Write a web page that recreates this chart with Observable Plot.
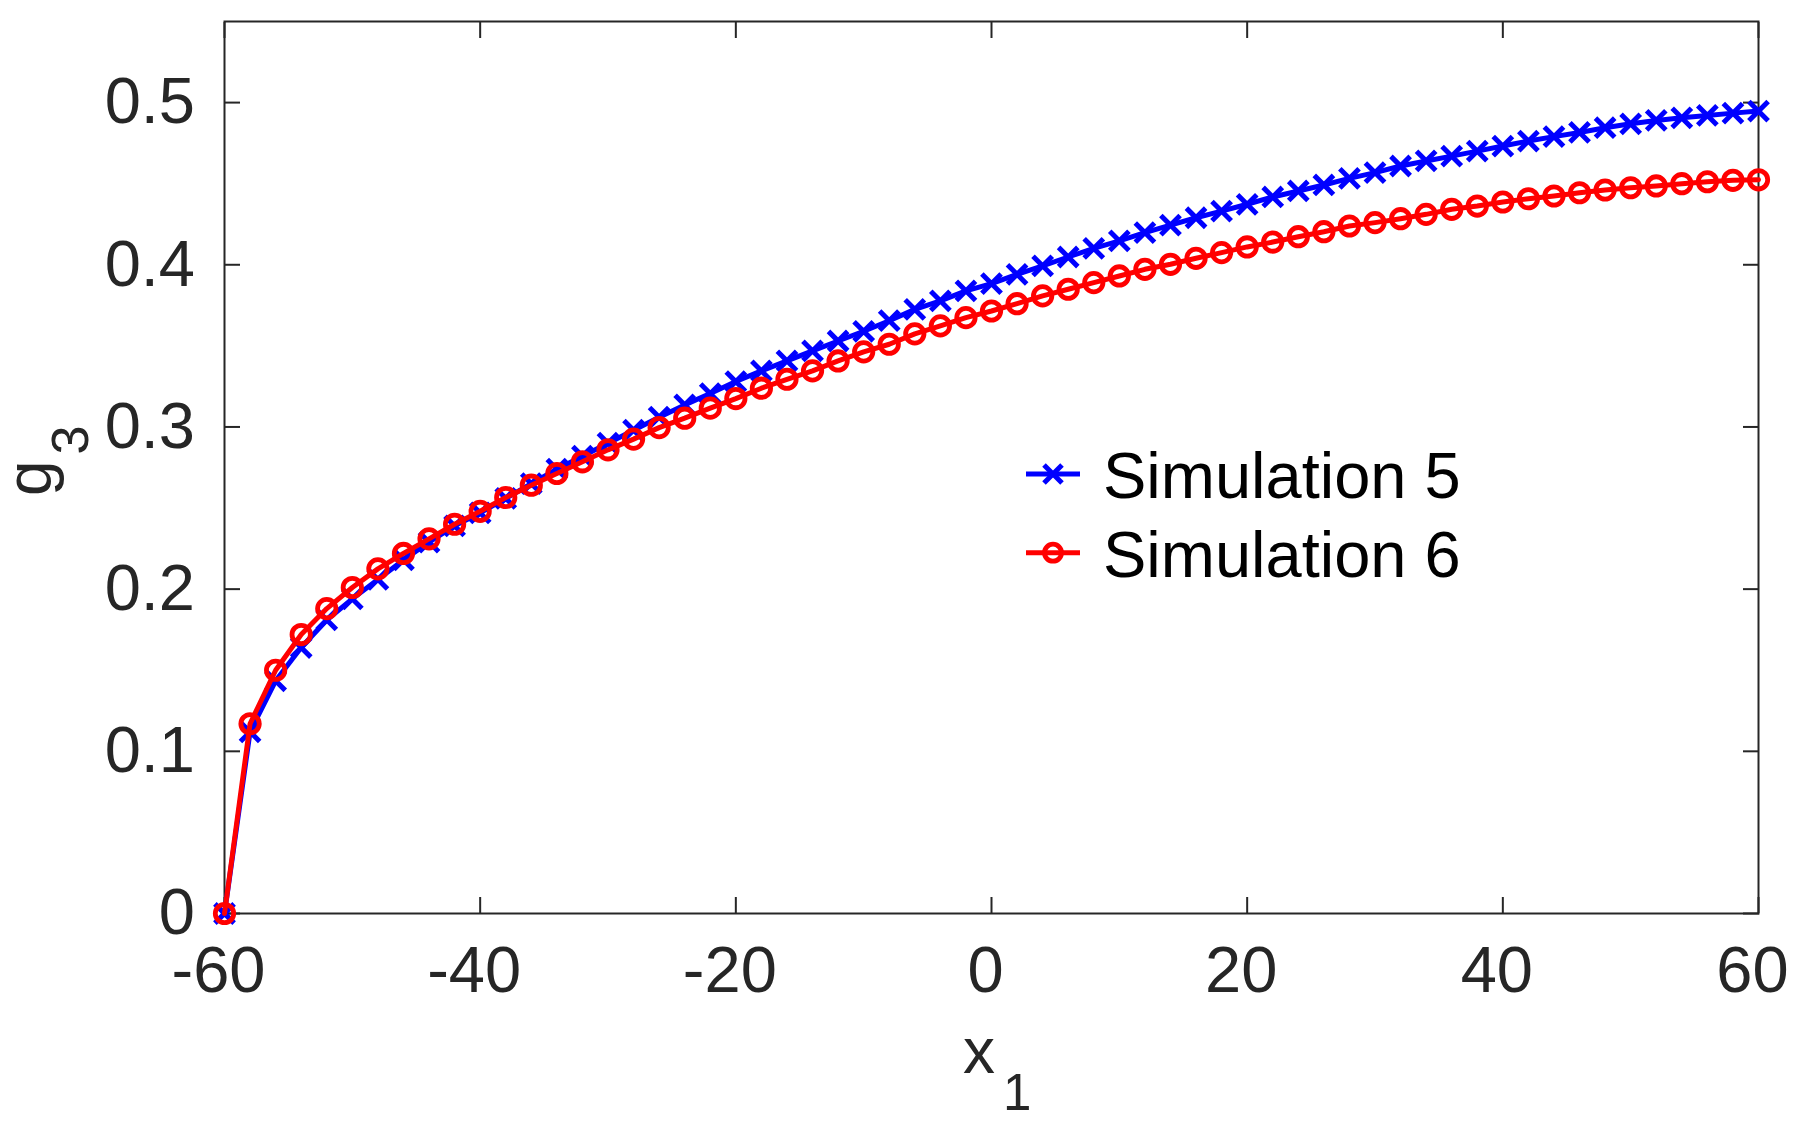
<!DOCTYPE html>
<html><head><meta charset="utf-8">
<script src="https://cdn.jsdelivr.net/npm/d3@7"></script>
<script src="https://cdn.jsdelivr.net/npm/@observablehq/plot@0.6"></script>
<style>html,body{margin:0;padding:0;background:#fff;} #wrap{width:1805px;height:1126px;}</style>
</head><body><div id="wrap"></div>
<script>
const xValues = [-60,-58,-56,-54,-52,-50,-48,-46,-44,-42,-40,-38,-36,-34,-32,-30,-28,-26,-24,-22,-20,-18,-16,-14,-12,-10,-8,-6,-4,-2,0,2,4,6,8,10,12,14,16,18,20,22,24,26,28,30,32,34,36,38,40,42,44,46,48,50,52,54,56,58,60];
const sim5 = [0,0.112,0.1435,0.164,0.181,0.194,0.206,0.218,0.229,0.239,0.247,0.256,0.265,0.274,0.282,0.290,0.298,0.306,0.3136,0.3206,0.328,0.3346,0.3407,0.3469,0.353,0.359,0.3655,0.3725,0.3777,0.3839,0.3884,0.3941,0.3993,0.4048,0.4101,0.4147,0.4198,0.4245,0.429,0.4331,0.4373,0.4418,0.4455,0.4492,0.4533,0.4568,0.4609,0.464,0.467,0.4701,0.4732,0.4763,0.479,0.4816,0.4845,0.4869,0.489,0.4906,0.4921,0.4935,0.4948];
const sim6 = [0,0.117,0.150,0.172,0.188,0.201,0.2125,0.222,0.231,0.240,0.248,0.2565,0.2641,0.2713,0.2785,0.2859,0.2925,0.2996,0.3054,0.3116,0.3175,0.3239,0.3294,0.3346,0.3407,0.3463,0.351,0.3574,0.3623,0.3674,0.3715,0.376,0.3808,0.3849,0.389,0.3931,0.3972,0.4003,0.404,0.4075,0.411,0.414,0.4173,0.4204,0.4239,0.426,0.4284,0.4311,0.4342,0.4362,0.4387,0.4407,0.4424,0.4444,0.4461,0.4475,0.4486,0.45,0.4512,0.4521,0.4524];
const xTicks = [-60,-40,-20,0,20,40,60];
const yTicks = [0,0.1,0.2,0.3,0.4,0.5];
const seriesNames = ["Simulation 5","Simulation 6"];
const seriesColors = ["#0000ff","#ff0000"];
const axisColor = "#262626";

const d5 = xValues.map((x,i)=>({x, y: sim5[i]}));
const d6 = xValues.map((x,i)=>({x, y: sim6[i]}));

const fmt = d => String(d);
const none = () => "";
const plot = Plot.plot({
  width: 1805, height: 1126,
  marginLeft: 224, marginRight: 47, marginTop: 21, marginBottom: 213,
  style: {fontFamily: "'Liberation Sans', Arial, sans-serif", fontSize: "65px", color: axisColor, background: "#fff", overflow: "visible"},
  x: {domain: [-60, 60], label: null},
  y: {domain: [0, 0.55], label: null},
  marks: [
    Plot.frame({stroke: axisColor, strokeWidth: 2}),
    Plot.axisX(xTicks, {anchor: "bottom", tickSize: -16, tickFormat: none, label: null, strokeWidth: 2}),
    Plot.axisX(xTicks, {anchor: "bottom", tickSize: 0, tickPadding: 32.5, tickFormat: fmt, label: null, dx: -6}),
    Plot.axisX(xTicks, {anchor: "top", tickSize: -16, tickFormat: none, label: null, strokeWidth: 2}),
    Plot.axisY(yTicks, {anchor: "left", tickSize: -16, tickPadding: 45.5, tickFormat: fmt, label: null, strokeWidth: 2}),
    Plot.axisY(yTicks, {anchor: "right", tickSize: -16, tickFormat: none, label: null, strokeWidth: 2}),
    Plot.line(d5, {x: "x", y: "y", stroke: seriesColors[0], strokeWidth: 5}),
    Plot.dot(d5, {x: "x", y: "y", symbol: "times", r: 8.8, stroke: seriesColors[0], strokeWidth: 5}),
    Plot.line(d6, {x: "x", y: "y", stroke: seriesColors[1], strokeWidth: 5}),
    Plot.dot(d6, {x: "x", y: "y", symbol: "circle", r: 9.2, stroke: seriesColors[1], fill: "none", strokeWidth: 4.8})
  ]
});
document.getElementById("wrap").appendChild(plot);

const svg = d3.select(plot);
const ff = "'Liberation Sans', Arial, sans-serif";
// x label: x_1
const xl = svg.append("text").attr("x", 963).attr("y", 1073).attr("text-anchor", "start").attr("font-family", ff).attr("font-size", 64).attr("fill", axisColor).text("x");
xl.append("tspan").attr("dx", 8).attr("dy", 37).attr("font-size", 51).text("1");
// y label: g_3
const yl = svg.append("text").attr("transform", "translate(51,496) rotate(-90)").attr("text-anchor", "start").attr("font-family", ff).attr("font-size", 64).attr("fill", axisColor).text("g");
yl.append("tspan").attr("dx", 6).attr("dy", 37).attr("font-size", 52).text("3");
// legend
const lg = svg.append("g");
seriesNames.forEach((name, i) => {
  const cy = 474 + i * 78.7;
  lg.append("line").attr("x1", 1026).attr("x2", 1080).attr("y1", cy).attr("y2", cy).attr("stroke", seriesColors[i]).attr("stroke-width", 5);
  if (i === 0) {
    lg.append("path").attr("d", `M${1053-9},${cy-9}L${1053+9},${cy+9}M${1053-9},${cy+9}L${1053+9},${cy-9}`).attr("stroke", seriesColors[i]).attr("stroke-width", 5).attr("fill", "none");
  } else {
    lg.append("circle").attr("cx", 1053).attr("cy", cy).attr("r", 8.5).attr("stroke", seriesColors[i]).attr("stroke-width", 4.8).attr("fill", "none");
  }
  lg.append("text").attr("x", 1103).attr("y", cy + 24).attr("text-anchor", "start").attr("font-family", ff).attr("font-size", 65).attr("fill", "#000").text(name);
});
</script>
</body></html>
